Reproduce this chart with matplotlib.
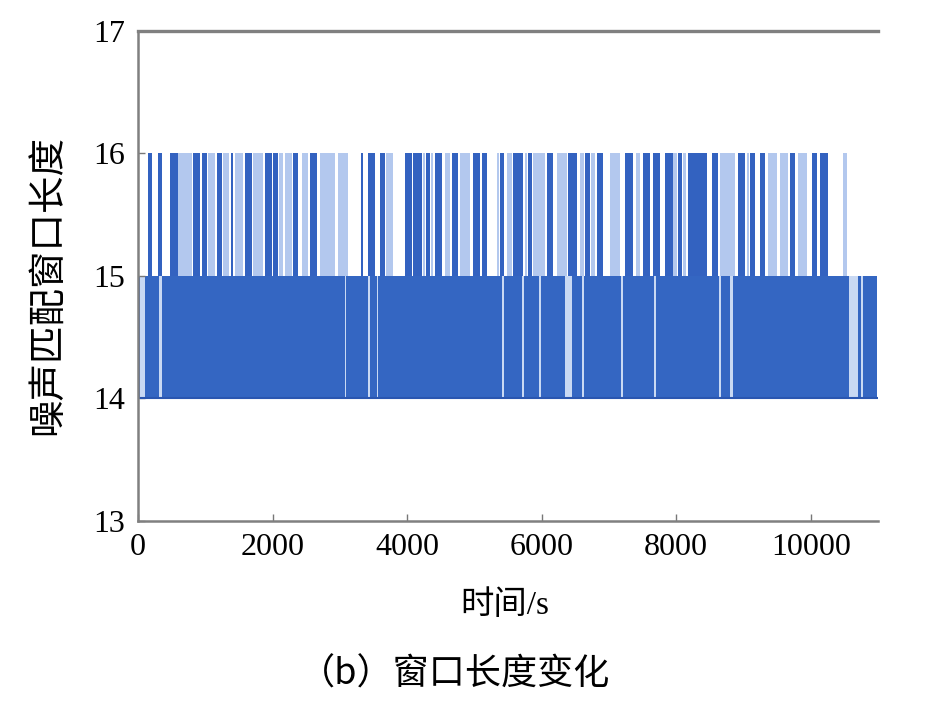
import numpy as np
import matplotlib
matplotlib.use("Agg")
import matplotlib.pyplot as plt

plt.rcParams['font.family'] = ['Liberation Serif', 'Noto Sans CJK SC']

t_end = 10990
band_low, band_high, spike_top = 14, 15, 16

# bursts where the window reached 16 (start, end) - dense ones
dark_bursts = [(149, 208), (297, 357), (476, 595), (818, 922), (951, 1026),
               (1174, 1249), (1382, 1412), (1591, 1695), (1888, 1992), (2007, 2081),
               (2304, 2378), (2557, 2661), (3315, 3345), (3419, 3523), (3597, 3672),
               (3969, 4073), (4088, 4222), (4281, 4341), (4415, 4519), (4668, 4757),
               (4980, 5084), (5114, 5188), (5381, 5441), (5574, 5723), (5797, 5857),
               (6080, 6169), (6392, 6526), (6645, 6719), (6823, 6912), (7239, 7358),
               (7507, 7611), (7656, 7760), (7834, 7953), (8027, 8087), (8176, 8458),
               (8532, 8622), (8919, 9023), (9097, 9172), (9246, 9320), (9692, 9766),
               (10019, 10093), (10138, 10257)]
# sparse ones
light_bursts = [(595, 803), (1040, 1145), (1264, 1353), (1442, 1561), (1709, 1858),
                (2096, 2155), (2185, 2289), (2438, 2527), (2705, 2928), (2973, 3122),
                (3687, 3791), (4237, 4266), (4356, 4385), (4564, 4638), (4787, 4935),
                (5337, 5366), (5485, 5559), (5753, 5782), (5872, 6050), (6228, 6377),
                (6570, 6630), (6734, 6793), (7016, 7165), (7403, 7462), (7953, 8012),
                (8101, 8146), (8651, 8874), (9052, 9082), (9365, 9499), (9543, 9662),
                (9811, 9945), (10480, 10540)]
# stretches where the 14/15 band pauses
band_gaps = [(30, 104), (312, 357), (3077, 3092), (3419, 3449), (3553, 3568),
             (5411, 5441), (5708, 5738), (5961, 5991), (6347, 6451), (6600, 6630),
             (7180, 7210), (7671, 7700), (8636, 8666), (8799, 8844), (10569, 10703),
             (10748, 10778)]

xticks = [0, 2000, 4000, 6000, 8000, 10000]
yticks = [13, 14, 15, 16, 17]


def spans(pairs):
    return [(a, b - a) for a, b in pairs]


fig = plt.figure(figsize=(9.28, 7.01), dpi=100)
ax = fig.add_axes([0.1487, 0.2568, 0.7974, 0.699])

# 14-15 band
ax.broken_barh([(0, t_end)], (band_low, band_high - band_low), color='#3466c2', lw=0)
ax.broken_barh(spans(band_gaps), (band_low, band_high - band_low), color='#c9d9f3', lw=0)
ax.plot([0, t_end], [band_low, band_low], color='#2a56b0', lw=1.5)
# excursions to 16
ax.broken_barh(spans(light_bursts), (band_high, spike_top - band_high), color='#b3c8ee', lw=0)
ax.broken_barh(spans(dark_bursts), (band_high, spike_top - band_high), color='#3362c0', lw=0)

ax.set_xlim(0, 11000)
ax.set_ylim(13, 17)
ax.set_xticks(xticks)
ax.set_yticks(yticks)
ax.tick_params(direction='in', length=5, width=1, color='#777777', labelsize=23, pad=9)

for s in ['left', 'bottom', 'top']:
    ax.spines[s].set_color('#808080')
    ax.spines[s].set_linewidth(1.8)
ax.spines['top'].set_linewidth(2.4)
ax.spines['right'].set_visible(False)

fig.text(0.052, 0.593, '噪声匹配窗口长度', rotation=90, ha='center', va='center', fontsize=27)
fig.text(0.544, 0.136, '时间/s', ha='center', va='center', fontsize=24)
fig.text(0.490, 0.038, '（b）窗口长度变化', ha='center', va='center', fontsize=26,
         family=['Noto Sans CJK SC'])

fig.savefig('out.png', dpi=100)
